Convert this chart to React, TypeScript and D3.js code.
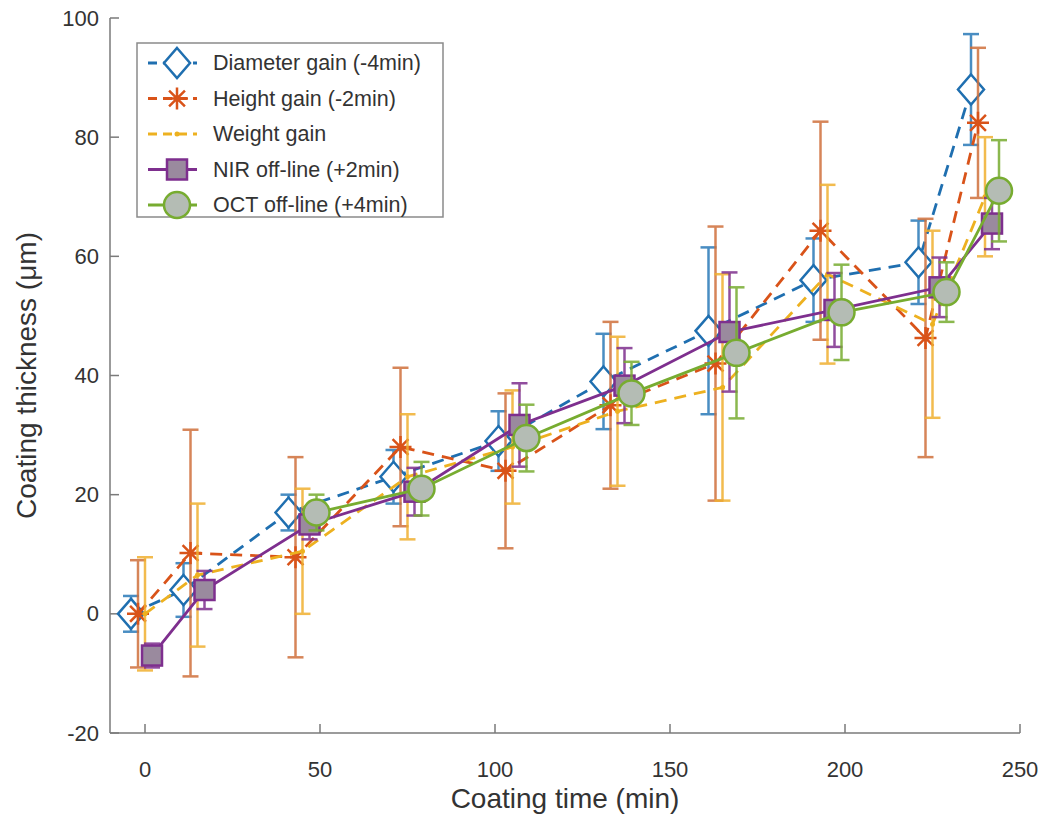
import React from "react";
import * as d3 from "d3";

const baseTimes = [0, 15, 45, 75, 105, 135, 165, 195, 225, 240];

const diameterVals = [0, 4, 17, 23, 29, 39, 47.5, 56, 59, 88];
const diameterErr = [3, 4.5, 3, 4.5, 5, 8, 14, 7, 7, 9.3];

const heightVals = [0, 10.2, 9.5, 28, 24, 35, 42, 64.3, 46.3, 82.4];
const heightErr = [9, 20.7, 16.8, 13.3, 13, 14, 23, 18.3, 20, 12.6];

const weightVals = [0, 6.5, 10.5, 23, 28, 34, 38, 57, 48.6, 70];
const weightErr = [9.5, 12, 10.5, 10.5, 9.5, 12.5, 19, 15, 15.7, 10];

const nirVals = [-7, 4, 15, 20.5, 31.7, 38.3, 47.3, 51, 54.8, 65.5];
const nirErr = [2, 3.2, 2.5, 4, 7, 6.3, 10, 6.2, 5, 4.3];

const octTimes = [45, 75, 105, 135, 165, 195, 225, 240];
const octVals = [17, 21, 29.5, 37, 43.8, 50.6, 54, 71];
const octErr = [3, 4.5, 5.6, 5.3, 11, 8, 5, 8.5];

const xTicks = [0, 50, 100, 150, 200, 250];
const yTicks = [-20, 0, 20, 40, 60, 80, 100];

type Series = {
  name: string;
  times: number[];
  offset: number;
  vals: number[];
  err: number[];
  color: string;
  errColor: string;
  dash: string | undefined;
  marker: "diamond" | "star" | "dot" | "square" | "circle";
  fill: string;
};

const series: Series[] = [
  { name: "Diameter gain (-4min)", times: baseTimes, offset: -4, vals: diameterVals, err: diameterErr, color: "#1f6fb0", errColor: "#2a7ab8", dash: "12,8", marker: "diamond", fill: "#ffffff" },
  { name: "Height gain (-2min)", times: baseTimes, offset: -2, vals: heightVals, err: heightErr, color: "#d95319", errColor: "#d0703c", dash: "12,8", marker: "star", fill: "#d95319" },
  { name: "Weight gain", times: baseTimes, offset: 0, vals: weightVals, err: weightErr, color: "#edb120", errColor: "#f0b030", dash: "12,8", marker: "dot", fill: "#edb120" },
  { name: "NIR off-line (+2min)", times: baseTimes, offset: 2, vals: nirVals, err: nirErr, color: "#7e2f8e", errColor: "#7e2f8e", dash: undefined, marker: "square", fill: "#9a8a9e" },
  { name: "OCT off-line (+4min)", times: octTimes, offset: 4, vals: octVals, err: octErr, color: "#77ac30", errColor: "#77ac30", dash: undefined, marker: "circle", fill: "#b4bcb4" },
];

const W = 1043;
const H = 824;
const x = d3.scaleLinear().domain([-10, 250]).range([110, 1020]);
const y = d3.scaleLinear().domain([-20, 100]).range([733, 18]);

function Marker({ kind, cx, cy, color, fill }: { kind: string; cx: number; cy: number; color: string; fill: string }) {
  if (kind === "diamond") {
    const rx = 13, ry = 15;
    return <path d={`M${cx},${cy - ry}L${cx + rx},${cy}L${cx},${cy + ry}L${cx - rx},${cy}Z`} fill={fill} stroke={color} strokeWidth={2.5} />;
  }
  if (kind === "star") {
    const r = 11, d = r * 0.72;
    return (
      <path
        d={`M${cx},${cy - r}L${cx},${cy + r}M${cx - r},${cy}L${cx + r},${cy}M${cx - d},${cy - d}L${cx + d},${cy + d}M${cx - d},${cy + d}L${cx + d},${cy - d}`}
        stroke={color}
        strokeWidth={2.5}
        fill="none"
      />
    );
  }
  if (kind === "dot") {
    return <circle cx={cx} cy={cy} r={2.5} fill={color} />;
  }
  if (kind === "square") {
    const s = 10;
    return <rect x={cx - s} y={cy - s} width={2 * s} height={2 * s} fill={fill} stroke={color} strokeWidth={2.5} />;
  }
  return <circle cx={cx} cy={cy} r={13} fill={fill} stroke={color} strokeWidth={2.5} />;
}

export default function App() {
  const line = d3
    .line<[number, number]>()
    .x((d) => x(d[0]))
    .y((d) => y(d[1]));
  const capW = 8;
  const font = "Liberation Sans, Arial, Helvetica, sans-serif";

  const legendX = 137;
  const legendY = 43;
  const legendW = 306;
  const legendH = 174;
  const rowH = 35.5;

  return (
    <svg width={W} height={H} style={{ position: "absolute", left: 0, top: 0, background: "#fff" }} fontFamily={font}>
      {/* axes */}
      <g stroke="#7a7a7a" strokeWidth={1.5} fill="none">
        <line x1={x(-10)} x2={x(-10)} y1={y(100)} y2={y(-20)} />
        <line x1={x(-10)} x2={x(250)} y1={y(-20)} y2={y(-20)} />
        {yTicks.map((t) => (
          <line key={"yt" + t} x1={x(-10)} x2={x(-10) + 9} y1={y(t)} y2={y(t)} />
        ))}
        {xTicks.map((t) => (
          <line key={"xt" + t} x1={x(t)} x2={x(t)} y1={y(-20)} y2={y(-20) - 9} />
        ))}
      </g>
      <g fill="#333" fontSize={22}>
        {yTicks.map((t) => (
          <text key={"yl" + t} x={x(-10) - 11} y={y(t)} textAnchor="end" dominantBaseline="central">
            {t}
          </text>
        ))}
        {xTicks.map((t) => (
          <text key={"xl" + t} x={x(t)} y={y(-20) + 44} textAnchor="middle">
            {t}
          </text>
        ))}
      </g>
      <text x={565} y={808} textAnchor="middle" fontSize={28} fill="#333">
        Coating time (min)
      </text>
      <text transform={`translate(36,${y(40)}) rotate(-90)`} textAnchor="middle" fontSize={28} fill="#333">
        Coating thickness (μm)
      </text>

      {/* series */}
      {series.map((s) => {
        const pts: [number, number][] = s.times.map((t, i) => [t + s.offset, s.vals[i]]);
        return (
          <g key={s.name}>
            <g stroke={s.errColor} strokeWidth={2.5} opacity={0.85}>
              {pts.map((p, i) => {
                const cx = x(p[0]);
                const top = y(p[1] + s.err[i]);
                const bot = y(p[1] - s.err[i]);
                return (
                  <g key={i}>
                    <line x1={cx} x2={cx} y1={top} y2={bot} />
                    <line x1={cx - capW} x2={cx + capW} y1={top} y2={top} />
                    <line x1={cx - capW} x2={cx + capW} y1={bot} y2={bot} />
                  </g>
                );
              })}
            </g>
            <path d={line(pts) || ""} fill="none" stroke={s.color} strokeWidth={2.8} strokeDasharray={s.dash} />
            {pts.map((p, i) => (
              <Marker key={i} kind={s.marker} cx={x(p[0])} cy={y(p[1])} color={s.color} fill={s.fill} />
            ))}
          </g>
        );
      })}

      {/* legend */}
      <rect x={legendX} y={legendY} width={legendW} height={legendH} fill="#fff" stroke="#8a8a8a" strokeWidth={1.5} />
      {series.map((s, i) => {
        const cy = legendY + 20 + i * rowH;
        return (
          <g key={"lg" + s.name}>
            <line x1={148} x2={197} y1={cy} y2={cy} stroke={s.color} strokeWidth={2.8} strokeDasharray={s.dash ? "9,6" : undefined} />
            <Marker kind={s.marker} cx={177} cy={cy} color={s.color} fill={s.fill} />
            <text x={213} y={cy} dominantBaseline="central" fontSize={21.5} fill="#333">
              {s.name}
            </text>
          </g>
        );
      })}
    </svg>
  );
}
